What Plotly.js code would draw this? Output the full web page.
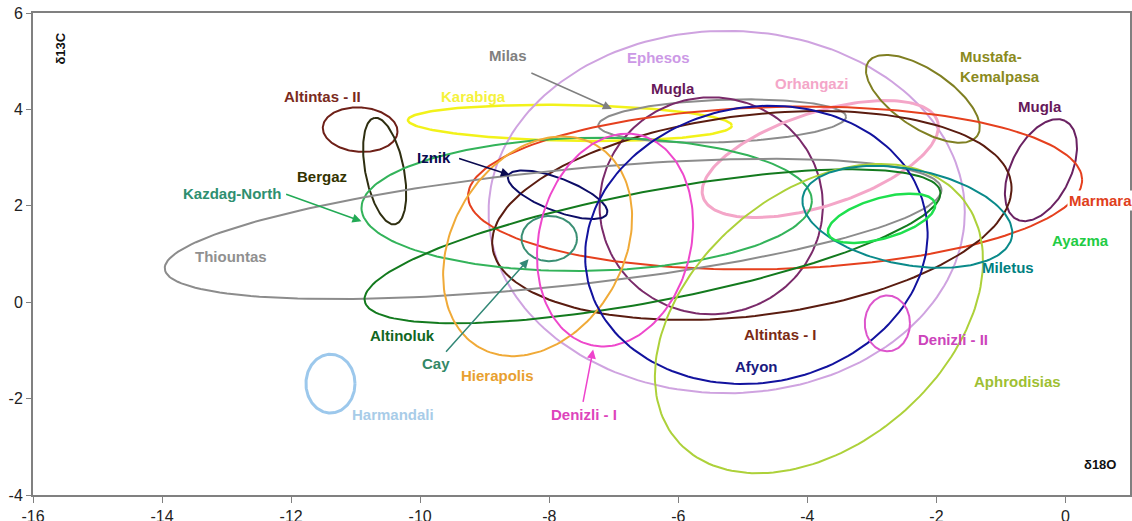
<!DOCTYPE html>
<html>
<head>
<meta charset="utf-8">
<script src="https://cdn.plot.ly/plotly-3.0.1.min.js"></script>
<style>html,body{margin:0;padding:0;background:#fff;}#chart{width:1132px;height:521px;}</style>
</head>
<body>
<div id="chart"></div>
<script>
// Isotope fields (δ18O centre, δ13C centre, half-extent along tilt axis in δ18O units, half-extent across in δ13C units, tilt in degrees)
const sites   = ["Altintas - II","Bergaz","Karabiga","Milas","Ephesos","Mugla","Orhangazi","Mustafa-Kemalpasa","Mugla (2)","Marmara","Altintas - I","Iznik","Kazdag-North","Thiountas","Altinoluk","Hierapolis","Cay","Denizli - I","Afyon","Aphrodisias","Miletus","Ayazma","Denizli - II","Harmandali"];
const centerO = [-10.93,-10.55,-7.68,-5.32,-5.25,-5.49,-3.80,-2.21,-0.38,-4.50,-4.86,-7.87,-7.42,-7.94,-6.40,-8.18,-8.00,-6.98,-4.79,-3.82,-2.45,-2.85,-2.76,-11.39];
const centerC = [3.58,2.72,3.72,3.76,1.87,2.00,2.97,4.22,2.74,2.37,1.80,2.23,2.03,1.52,1.16,1.16,1.32,1.29,1.19,-0.34,1.77,1.74,-0.44,-1.69];
const halfA   = [0.58,0.84,2.51,1.92,3.69,1.73,1.91,1.02,0.85,4.76,4.05,0.82,3.49,6.05,4.54,1.81,0.43,1.67,2.67,2.90,1.65,0.86,0.35,0.38];
const halfB   = [0.46,0.40,0.37,0.44,3.76,2.25,0.97,0.60,0.62,1.68,2.08,0.34,1.38,1.20,1.14,1.78,0.47,1.58,2.86,2.61,0.99,0.42,0.58,0.61];
const tiltDeg = [-4,101,-1,2,0,0,18,-34,64,1.6,7,-21,1,5.9,10.8,60,0,77,10.5,40.5,-10.9,15.9,0,0];

// Axis ticks
const xTickVals = [-16,-14,-12,-10,-8,-6,-4,-2,0];
const xTickText = ["-16","-14","-12","-10","-8","-6","-4","-2","0"];
const yTickVals = [-4,-2,0,2,4,6];
const yTickText = ["-4","-2","0","2","4","6"];

const lineColors = ["#6e2018","#2e2e10","#f2f21a","#8c8c8c","#cfa3e0","#7a2a6a","#f4a6c8","#7f7f22","#6a2262","#e5401e","#5a1c10","#0c0c66","#33b35a","#8c8c8c","#137a1e","#f0aa38","#3a8f74","#ee48cc","#12129e","#add13a","#0a8a8a","#1ee04e","#dd55cc","#9cc8ec"];
const lineWidths = [2,2,2.5,2,2,2,3,2,2,2,2,2,2,2,2,2,2,2,2,2,2,2.5,2,3];

const labelText = ["Altintas - II","Bergaz","Karabiga","Milas","Ephesos","Mugla","Orhangazi","Mustafa-<br>Kemalpasa","Mugla","Marmara","Altintas - I","Iznik","Kazdag-North","Thiountas","Altinoluk","Hierapolis","Cay","Denizli - I","Afyon","Aphrodisias","Miletus","Ayazma","Denizli - II","Harmandali"];
const labelColors = ["#7a2a20","#333300","#f5f23c","#808080","#cc99e6","#66185a","#f4a6c8","#8a8a20","#66185a","#e0401c","#7a2a15","#0a0a50","#2e8f70","#909090","#116622","#e8a030","#338866","#dd44bb","#1a1a80","#9ebf33","#008080","#22cc44","#cc44bb","#a8cce8"];
const labelPos = [[-11.52,4.26],[-11.52,2.60],[-9.18,4.26],[-8.64,5.11],[-6.30,5.07],[-6.08,4.43],[-3.93,4.53],[-1.66,4.89],[-0.39,4.05],[0.54,2.12],[-4.42,-0.67],[-9.78,3.01],[-12.92,2.25],[-12.93,0.94],[-10.28,-0.69],[-8.80,-1.52],[-9.76,-1.27],[-7.46,-2.33],[-4.79,-1.33],[-0.74,-1.64],[-0.89,0.71],[0.23,1.27],[-1.75,-0.77],[-10.42,-2.33]];

// Arrows: [headX, headY, tailX, tailY, color]
const arrows = [
  [-7.03,4.01,-8.30,4.77,"#808080"],
  [-10.91,1.68,-12.10,2.25,"#22aa55"],
  [-8.61,2.64,-9.42,2.99,"#0a0a50"],
  [-8.32,0.89,-9.62,-1.06,"#338877"],
  [-7.32,-0.98,-7.48,-2.10,"#ee44cc"]
];

const xRange = [-16, 1];
const yRange = [-4, 6];
const W = 1132, H = 521;
const margin = {l:33, r:2, t:13, b:26};
const kx = (W - margin.l - margin.r) / (xRange[1]-xRange[0]);
const ky = (H - margin.t - margin.b) / (yRange[1]-yRange[0]);
const FONT = 'Liberation Sans, Arial, sans-serif';

const traces = [];
const N = 180;
for (let i = 0; i < sites.length; i++) {
  const th = tiltDeg[i]*Math.PI/180;
  const xs = [], ys = [];
  for (let k = 0; k <= N; k++) {
    const t = 2*Math.PI*k/N;
    const u = halfA[i]*kx*Math.cos(t);
    const v = halfB[i]*ky*Math.sin(t);
    const up = u*Math.cos(th) - v*Math.sin(th);
    const vp = u*Math.sin(th) + v*Math.cos(th);
    xs.push(centerO[i] + up/kx);
    ys.push(centerC[i] + vp/ky);
  }
  traces.push({x:xs, y:ys, type:'scatter', mode:'lines', name:sites[i],
    line:{color:lineColors[i], width:lineWidths[i], shape:'linear'}, hoverinfo:'skip', showlegend:false});
}

const annotations = [];
for (let i = 0; i < labelText.length; i++) {
  const isLeft = labelText[i].indexOf('<br>') >= 0;
  annotations.push({x:labelPos[i][0], y:labelPos[i][1], xref:'x', yref:'y',
    text:'<b>'+labelText[i]+'</b>', showarrow:false,
    xanchor: isLeft ? 'left' : 'center', align: isLeft ? 'left' : 'center',
    bgcolor: labelText[i]==='Marmara' ? '#ffffff' : 'rgba(0,0,0,0)',
    font:{family:FONT, size:15, color:labelColors[i]}});
}
arrows.forEach(a => {
  annotations.push({x:a[0], y:a[1], ax:a[2], ay:a[3], xref:'x', yref:'y', axref:'x', ayref:'y',
    text:'', showarrow:true, arrowhead:2, arrowsize:1.2, arrowwidth:1.5, arrowcolor:a[4]});
});
annotations.push({x:0.025, y:0.927, xref:'paper', yref:'paper', xanchor:'center', yanchor:'middle',
  text:'<b>δ13C</b>', textangle:-90, showarrow:false,
  font:{family:FONT, size:13, color:'#111'}});
annotations.push({x:0.54, y:-3.37, xref:'x', yref:'y', text:'<b>δ18O</b>', showarrow:false,
  font:{family:FONT, size:13, color:'#111'}});

const layout = {
  width:W, height:H, margin:margin,
  paper_bgcolor:'#fff', plot_bgcolor:'#fff',
  showlegend:false,
  xaxis:{range:xRange, tickvals:xTickVals, ticktext:xTickText, ticks:'outside', ticklen:6, tickcolor:'#808080',
    showgrid:false, zeroline:false, showline:true, linecolor:'#808080', linewidth:2, mirror:true,
    tickfont:{family:FONT, size:16, color:'#222'}, fixedrange:true},
  yaxis:{range:yRange, tickvals:yTickVals, ticktext:yTickText, ticks:'outside', ticklen:5, tickcolor:'#808080',
    showgrid:false, zeroline:false, showline:true, linecolor:'#808080', linewidth:2, mirror:true,
    tickfont:{family:FONT, size:16, color:'#222'}, fixedrange:true},
  annotations:annotations
};

Plotly.newPlot('chart', traces, layout, {staticPlot:true, displayModeBar:false});
</script>
</body>
</html>
